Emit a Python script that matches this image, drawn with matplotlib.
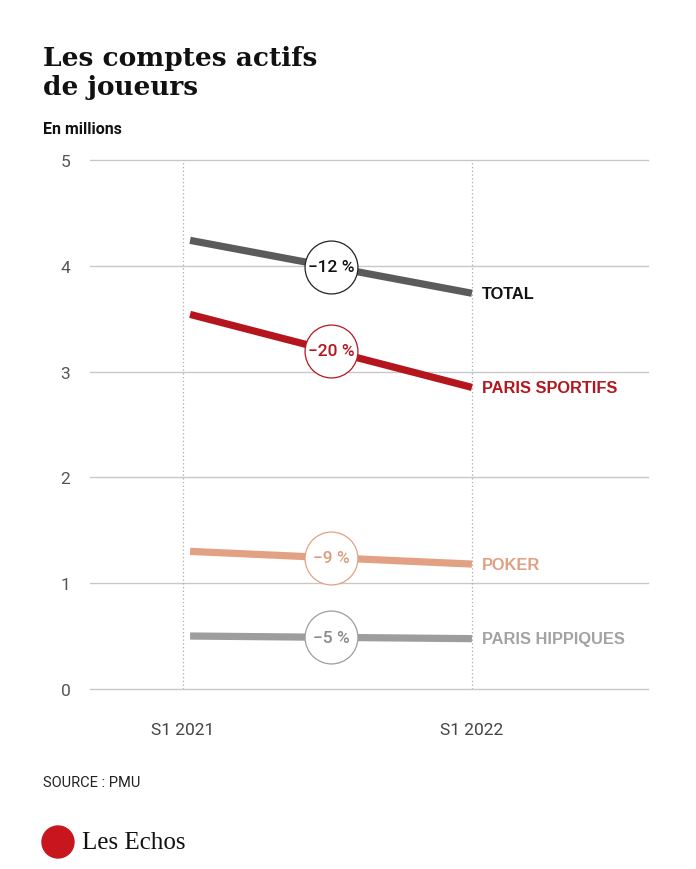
import matplotlib.pyplot as plt
from matplotlib.patches import Circle

plt.rcParams['font.family'] = ['Roboto', 'DejaVu Sans']

# données (en millions)
periodes = ["S1 2021", "S1 2022"]
series = ["TOTAL", "PARIS SPORTIFS", "POKER", "PARIS HIPPIQUES"]
debut = [4.24, 3.54, 1.30, 0.50]
fin = [3.74, 2.85, 1.18, 0.475]
variations = ["\u221212 %", "\u221220 %", "\u22129 %", "\u22125 %"]

couleurs = ["#5b5b5b", "#b5161e", "#e3a184", "#9d9d9d"]
couleurs_texte = ["#111111", "#b5161e", "#e0a083", "#a3a3a3"]
bords_cercle = ["#222222", "#b5161e", "#e3a184", "#9d9d9d"]
couleurs_pct = ["#111111", "#b5161e", "#df9a7c", "#8a8a8a"]

fig = plt.figure(figsize=(6.96, 8.7), dpi=100)
ax = fig.add_axes([0.129, 0.207, 0.802, 0.608])

xpos = [0, 1]
for i in range(len(series)):
    ax.plot([xpos[0] + 0.025, xpos[1]], [debut[i], fin[i]], color=couleurs[i],
            lw=5.2, solid_capstyle="butt", zorder=3)
    xm = (xpos[0] + 0.025 + xpos[1]) / 2
    ym = (debut[i] + fin[i]) / 2
    ax.scatter([xm], [ym], s=1450, facecolor="white", edgecolor=bords_cercle[i],
               linewidth=0.9, zorder=4)
    ax.text(xm, ym, variations[i], ha="center", va="center", fontsize=12.5,
            color=couleurs_pct[i], fontweight="medium", zorder=5)
    ax.text(1.035, fin[i], series[i], ha="left", va="center", fontsize=11.8,
            fontweight="bold", color=couleurs_texte[i], family="Liberation Sans")

ax.set_xlim(-0.322, 1.609)
ax.set_ylim(0, 5)
ax.set_yticks([0, 1, 2, 3, 4, 5])
ax.grid(axis="y", color="#c8c8c8", lw=1)
for gl in ax.get_ygridlines():
    gl.set_clip_on(False)
for x in xpos:
    ax.axvline(x, color="#a8a8a8", lw=0.9, ls=(0, (1, 2)), zorder=1)
ax.set_xticks(xpos)
ax.set_xticklabels(periodes)
ax.tick_params(length=0, labelsize=12.5, labelcolor="#444444")
ax.tick_params(axis="y", pad=14)
ax.tick_params(axis="x", pad=24)
for lbl in ax.get_yticklabels():
    lbl.set_color("#555555")
for s in ax.spines.values():
    s.set_visible(False)
ax.set_axisbelow(True)

fig.text(0.062, 0.947, "Les comptes actifs\nde joueurs", fontsize=19,
         fontweight="bold", family="DejaVu Serif", va="top", ha="left",
         color="#111111", linespacing=1.2)
fig.text(0.062, 0.851, "En millions", fontsize=11.5, fontweight="bold",
         color="#111111", va="center")
fig.text(0.062, 0.100, "SOURCE : PMU", fontsize=10.5, color="#222222", va="center")

# logo
logo = Circle((58, 870 - 843), 16, transform=None, color="#c8161e")
fig.patches.append(logo)
fig.text(0.118, 0.031, "Les Echos", fontsize=18, family="Liberation Serif",
         color="#111111", va="center", ha="left")

fig.savefig("out.png", dpi=100, facecolor="white")
